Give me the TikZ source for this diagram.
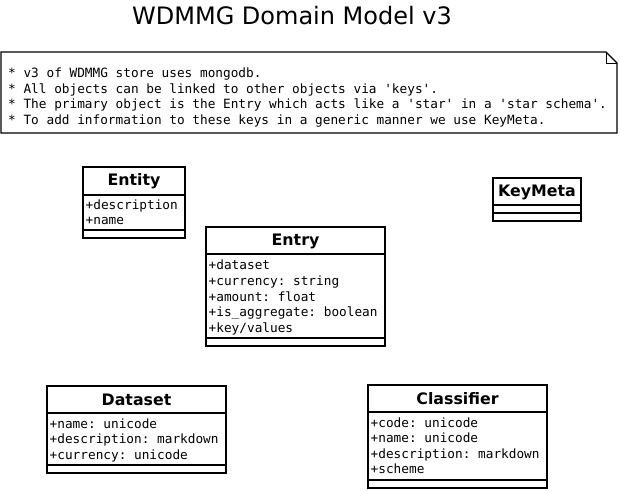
\documentclass[tikz,border=0pt]{standalone}
\usepackage{fontspec}
\setmainfont{DejaVu Sans}
\setmonofont{DejaVu Sans Mono}
\begin{document}
\begin{tikzpicture}[x=1pt,y=-1pt,
  frame/.style={draw=black,line width=1.6pt,fill=white},
  sepline/.style={draw=black,line width=1.6pt},
  cname/.style={font=\fontsize{15.8}{18}\selectfont\bfseries,inner sep=0pt},
  attr/.style={font=\fontsize{12.75}{15.7}\ttfamily,anchor=base west,inner sep=0pt},
  ntext/.style={font=\fontsize{12.75}{15.7}\ttfamily,anchor=base west,inner sep=0pt}]
\useasboundingbox (0,0) rectangle (620,490);
% title
\node[font=\fontsize{24}{28}\selectfont,anchor=base,inner sep=0pt] (title) at (292,24) {WDMMG Domain Model v3};
% note
\draw[line width=1.3pt,fill=white] (1,52) -- (606,52) -- (617,63) -- (617,133) -- (1,133) -- cycle;
\draw[line width=1pt] (606,52) -- (606,63) -- (617,63);
\node[ntext] (n1) at (8,77.5) {* v3 of WDMMG store uses mongodb.};
\node[ntext] (n2) at (8,93) {* All objects can be linked to other objects via 'keys'.};
\node[ntext] (n3) at (8,108.5) {* The primary object is the Entry which acts like a 'star' in a 'star schema'.};
\node[ntext] (n4) at (8,124) {* To add information to these keys in a generic manner we use KeyMeta.};
% Entity
\draw[frame] (83,167) rectangle (185,238);
\draw[sepline] (83,195) -- (185,195);
\draw[sepline] (83,230) -- (185,230);
\node[cname] (entity) at (134,181.5) {Entity};
\node[attr] (entity1) at (85.5,209) {+description};
\node[attr] (entity2) at (85.5,224.5) {+name};
% Entry
\draw[frame] (206,227) rectangle (385,346);
\draw[sepline] (206,254) -- (385,254);
\draw[sepline] (206,338) -- (385,338);
\node[cname] (entry) at (295.5,241) {Entry};
\node[attr] (entry1) at (208.5,269.5) {+dataset};
\node[attr] (entry2) at (208.5,285.5) {+currency: string};
\node[attr] (entry3) at (208.5,301) {+amount: float};
\node[attr] (entry4) at (208.5,316.5) {+is\_aggregate: boolean};
\node[attr] (entry5) at (208.5,332) {+key/values};
% KeyMeta
\draw[frame] (493,178) rectangle (581,221);
\draw[sepline] (493,205) -- (581,205);
\draw[sepline] (493,213) -- (581,213);
\node[cname] (keymeta) at (537,192) {KeyMeta};
% Dataset
\draw[frame] (47,386) rectangle (226,473);
\draw[sepline] (47,413) -- (226,413);
\draw[sepline] (47,465) -- (226,465);
\node[cname] (dataset) at (136.5,400) {Dataset};
\node[attr] (dataset1) at (49.5,428) {+name: unicode};
\node[attr] (dataset2) at (49.5,443.5) {+description: markdown};
\node[attr] (dataset3) at (49.5,459) {+currency: unicode};
% Classifier
\draw[frame] (368,385) rectangle (547,488);
\draw[sepline] (368,412) -- (547,412);
\draw[sepline] (368,480) -- (547,480);
\node[cname] (classifier) at (457.5,399) {Classifier};
\node[attr] (classifier1) at (370.5,427) {+code: unicode};
\node[attr] (classifier2) at (370.5,442.5) {+name: unicode};
\node[attr] (classifier3) at (370.5,458) {+description: markdown};
\node[attr] (classifier4) at (370.5,473.5) {+scheme};
\end{tikzpicture}
\end{document}
